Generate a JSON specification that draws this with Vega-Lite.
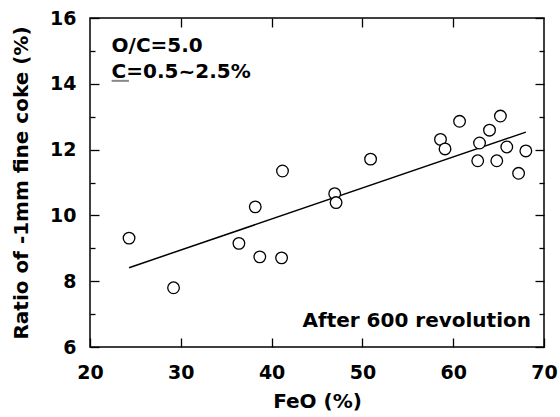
{
  "$schema": "https://vega.github.io/schema/vega-lite/v6.json",
  "autosize": {"type": "none"},
  "width": 454,
  "height": 329,
  "padding": {"left": 90, "top": 18, "right": 16, "bottom": 70},
  "background": "white",
  "config": {
    "view": {"stroke": "black", "strokeWidth": 1.5},
    "font": "DejaVu Sans",
    "axis": {
      "grid": false,
      "domain": false,
      "labelFlush": false,
      "labelOverlap": false,
      "tickColor": "black",
      "tickWidth": 1.3,
      "labelFont": "DejaVu Sans",
      "labelFontWeight": "bold",
      "labelFontSize": 19,
      "labelColor": "black",
      "titleFont": "DejaVu Sans",
      "titleFontWeight": "bold",
      "titleFontSize": 20,
      "titleColor": "black"
    }
  },
  "datasets": {
    "pts": [
      {"FeO": 24.3, "ratio": 9.31},
      {"FeO": 29.2, "ratio": 7.80},
      {"FeO": 36.4, "ratio": 9.15},
      {"FeO": 38.2, "ratio": 10.26},
      {"FeO": 38.7, "ratio": 8.74},
      {"FeO": 41.1, "ratio": 8.71},
      {"FeO": 41.2, "ratio": 11.35},
      {"FeO": 46.95, "ratio": 10.66},
      {"FeO": 47.1, "ratio": 10.39},
      {"FeO": 50.9, "ratio": 11.71},
      {"FeO": 58.6, "ratio": 12.31},
      {"FeO": 59.1, "ratio": 12.02},
      {"FeO": 60.7, "ratio": 12.86},
      {"FeO": 62.7, "ratio": 11.66},
      {"FeO": 62.9, "ratio": 12.2},
      {"FeO": 64.0, "ratio": 12.59},
      {"FeO": 64.8, "ratio": 11.66},
      {"FeO": 65.2, "ratio": 13.02},
      {"FeO": 65.9, "ratio": 12.08},
      {"FeO": 67.2, "ratio": 11.28},
      {"FeO": 68.0, "ratio": 11.96}
    ],
    "fit": [
      {"FeO": 24.3, "ratio": 8.41},
      {"FeO": 68.0, "ratio": 12.53}
    ],
    "notes": [
      {"label": "O/C=5.0", "FeO": 22.38, "ratio": 14.98},
      {"label": "C=0.5~2.5%", "FeO": 22.38, "ratio": 14.17}
    ],
    "footer": [
      {"label": "After 600 revolution", "FeO": 68.57, "ratio": 6.61}
    ],
    "underline": [
      {"FeO": 22.38, "FeO2": 24.29, "ratio": 14.09}
    ]
  },
  "resolve": {"axis": {"x": "independent", "y": "independent"}},
  "layer": [
    {
      "data": {"name": "fit"},
      "mark": {"type": "line", "color": "black", "strokeWidth": 1.5},
      "encoding": {
        "x": {"field": "FeO", "type": "quantitative", "scale": {"domain": [20, 70], "nice": false, "zero": false},
          "axis": {"orient": "top", "values": [30, 40, 50, 60], "labels": false, "tickSize": -9, "title": null}},
        "y": {"field": "ratio", "type": "quantitative", "scale": {"domain": [6, 16], "nice": false, "zero": false},
          "axis": {"orient": "right", "values": [6, 8, 10, 12, 14, 16], "labels": false, "tickSize": -9, "title": null}}
      }
    },
    {
      "data": {"name": "pts"},
      "mark": {"type": "point", "shape": "circle", "size": 135, "filled": false, "fill": "white", "fillOpacity": 1, "stroke": "black", "strokeWidth": 1.3, "opacity": 1},
      "encoding": {
        "x": {"field": "FeO", "type": "quantitative",
          "axis": {"orient": "bottom", "values": [20, 30, 40, 50, 60, 70], "tickSize": -9, "labelPadding": 25, "title": "FeO (%)", "titlePadding": 9}},
        "y": {"field": "ratio", "type": "quantitative",
          "axis": {"orient": "left", "values": [6, 8, 10, 12, 14, 16], "tickSize": -9, "labelPadding": 23, "title": "Ratio of -1mm fine coke (%)", "titlePadding": 18}}
      }
    },
    {
      "data": {"name": "notes"},
      "mark": {"type": "text", "align": "left", "baseline": "alphabetic", "font": "DejaVu Sans", "fontWeight": "bold", "fontSize": 20, "color": "black"},
      "encoding": {
        "text": {"field": "label"},
        "x": {"field": "FeO", "type": "quantitative", "axis": null},
        "y": {"field": "ratio", "type": "quantitative",
          "axis": {"orient": "left", "values": [7, 9, 11, 13, 15], "labels": false, "tickSize": -5, "title": null}}
      }
    },
    {
      "data": {"name": "footer"},
      "mark": {"type": "text", "align": "right", "baseline": "alphabetic", "font": "DejaVu Sans", "fontWeight": "bold", "fontSize": 20, "color": "black"},
      "encoding": {
        "text": {"field": "label"},
        "x": {"field": "FeO", "type": "quantitative", "axis": null},
        "y": {"field": "ratio", "type": "quantitative",
          "axis": {"orient": "right", "values": [7, 9, 11, 13, 15], "labels": false, "tickSize": -5, "title": null}}
      }
    },
    {
      "data": {"name": "underline"},
      "mark": {"type": "rule", "color": "#888888", "strokeWidth": 2},
      "encoding": {
        "x": {"field": "FeO", "type": "quantitative", "axis": null},
        "x2": {"field": "FeO2"},
        "y": {"field": "ratio", "type": "quantitative", "axis": null}
      }
    }
  ]
}
